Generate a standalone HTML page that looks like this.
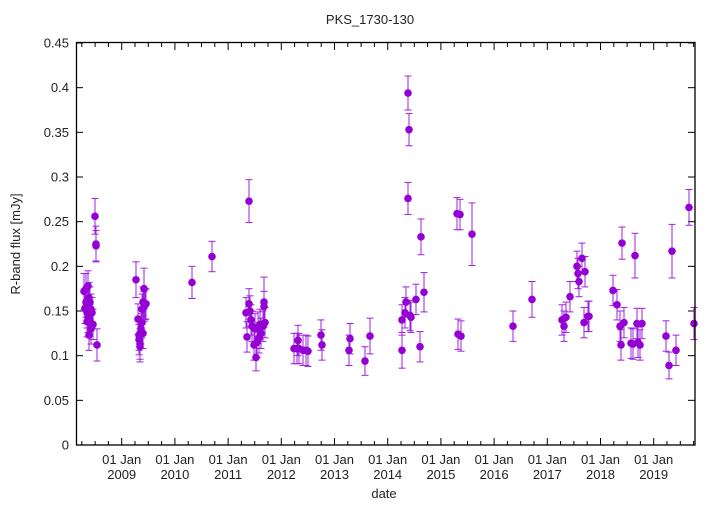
<!DOCTYPE html>
<html><head><meta charset="utf-8"><style>
body{margin:0;background:#fff}
svg text{font-family:"Liberation Sans",sans-serif;font-size:13px;fill:#222}
</style></head><body>
<svg id="s" width="720" height="504" xmlns="http://www.w3.org/2000/svg">
<text x="370" y="24" text-anchor="middle">PKS_1730-130</text>
<text x="384" y="498" text-anchor="middle">date</text>
<text transform="translate(20,244) rotate(-90)" text-anchor="middle">R-band flux [mJy]</text>
<g id="ax"></g><g id="pts"></g>
<rect x="76.5" y="42.5" width="618.5" height="402.5" fill="none" stroke="#000" stroke-width="1.3"/>
</svg>
<script>
var NS="http://www.w3.org/2000/svg",ax=document.getElementById('ax'),pg=document.getElementById('pts');
function el(p,t,a,txt){var e=document.createElementNS(NS,t);for(var k in a)e.setAttribute(k,a[k]);if(txt!==undefined)e.textContent=txt;p.appendChild(e);return e;}
function Y(f){return 445-893.3*f;}
var labs=["0","0.05","0.1","0.15","0.2","0.25","0.3","0.35","0.4","0.45"];
for(var i=0;i<10;i++){var y=Y(i*0.05);
 el(ax,'line',{x1:76,x2:83,y1:y,y2:y,stroke:'#000'});
 el(ax,'line',{x1:688,x2:695,y1:y,y2:y,stroke:'#000'});
 el(ax,'text',{x:69,y:y+4.5,'text-anchor':'end'},labs[i]);}
var yrs=[2009,2010,2011,2012,2013,2014,2015,2016,2017,2018,2019];
for(var i=-1;i<12;i++){var x0=121.7+53.2*i;
 for(var q=0;q<4;q++){var x=x0+q*13.3;if(x<77||x>694)continue;var L=q==0?7:4;
  el(ax,'line',{x1:x,x2:x,y1:445,y2:445-L,stroke:'#000'});
  el(ax,'line',{x1:x,x2:x,y1:43,y2:43+L,stroke:'#000'});}
 if(i>=0&&i<11){el(ax,'text',{x:x0,y:464,'text-anchor':'middle'},'01 Jan');el(ax,'text',{x:x0,y:479,'text-anchor':'middle'},yrs[i]);}}
var d=[[84,.172,.02],[86,.175],[88,.178],[86,.16],[85,.153],[87,.148],[89,.165],[90,.16],[88,.143],[87,.138],[90,.14],[92,.148],[91,.13],[93,.135],[89,.123],[91,.152],[95,.256,.02],[96,.225,.02],[96,.223],[97,.112,.018],
[136,.185,.02],[138,.141],[139,.123],[139,.118],[140,.113],[140,.11],[141,.13],[142,.137],[142,.152],[143,.16],[144,.155],[145,.157],[144,.175,.023],[146,.158],[143,.125],
[192,.182,.018],[212,.211,.017],
[246,.148],[247,.121],[249,.273,.024],[249,.158],[250,.15],[251,.14],[252,.133],[254,.112],[255,.13],[256,.098,.015],[257,.115],[258,.132],[259,.12],[260,.135],[261,.125],[263,.133],[264,.16,.028],[264,.155],[265,.137],
[294,.108],[297,.108],[298,.117],[299,.108],[303,.106],[306,.106],[308,.105],[322,.112],[321,.123],[349,.106],[350,.119],[365,.094,.016],[370,.122,.02],
[402,.106,.02],[402,.14],[405,.148],[406,.16],[408,.394,.019],[409,.353,.018],[408,.276,.018],[410,.145],[411,.143],[416,.163],[421,.233,.02],[420,.11],[424,.171,.022],
[457,.259,.018],[460,.258],[458,.124],[461,.122],[472,.236,.035],[513,.133],[532,.163,.02],
[562,.14],[564,.133],[566,.143],[570,.166],[577,.2],[578,.192],[579,.183],[582,.209],[585,.194],[584,.137],[588,.144],[589,.144],
[613,.173],[617,.157],[620,.133],[621,.112],[622,.226,.018],[624,.137],[631,.114],[633,.113],[635,.212,.025],[637,.136],[638,.115],[640,.112],[642,.136],
[666,.122],[669,.089,.015],[672,.217,.03],[676,.106],[689,.266,.02],[694,.136,.018]];
d.forEach(function(p){var x=p[0],f=p[1],e=p[2]||.017,y1=Y(f-e),y2=Y(f+e),c='#a020e0';
 el(pg,'line',{x1:x,x2:x,y1:y1,y2:y2,stroke:c,'stroke-width':1});
 el(pg,'line',{x1:x-3.5,x2:x+3.5,y1:y1,y2:y1,stroke:c});
 el(pg,'line',{x1:x-3.5,x2:x+3.5,y1:y2,y2:y2,stroke:c});});
d.forEach(function(p){el(pg,'circle',{cx:p[0],cy:Y(p[1]),r:3.8,fill:'#9400d3'});});
</script>
</body></html>
